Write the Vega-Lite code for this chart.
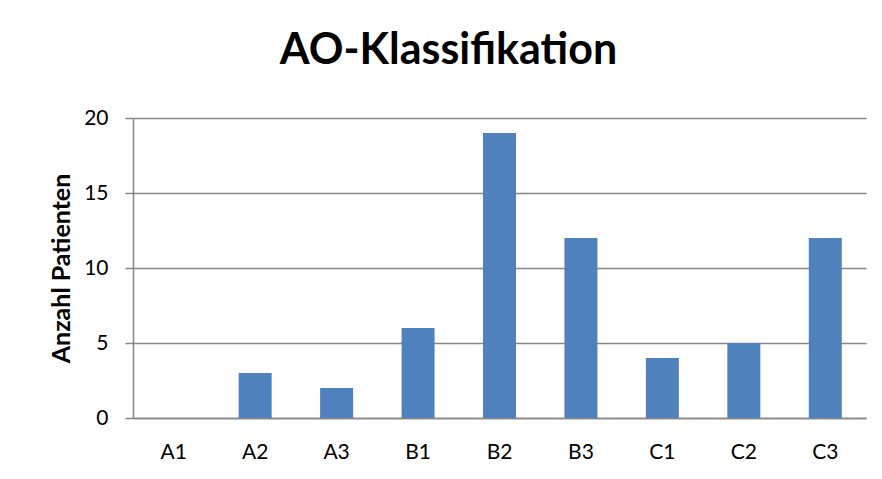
{
  "$schema": "https://vega.github.io/schema/vega-lite/v6.json",
  "width": 733,
  "height": 300,
  "autosize": {"type": "none"},
  "padding": {"left": 133, "top": 118, "right": 16, "bottom": 61},
  "background": "white",
  "title": {
    "text": "AO-Klassifikation",
    "font": "Lato",
    "fontSize": 43,
    "fontWeight": "bold",
    "color": "#000000",
    "anchor": "middle",
    "dx": -51,
    "baseline": "alphabetic",
    "offset": 0
  },
  "data": {
    "values": [
      {"klasse": "A1", "anzahl": 0},
      {"klasse": "A2", "anzahl": 3},
      {"klasse": "A3", "anzahl": 2},
      {"klasse": "B1", "anzahl": 6},
      {"klasse": "B2", "anzahl": 19},
      {"klasse": "B3", "anzahl": 12},
      {"klasse": "C1", "anzahl": 4},
      {"klasse": "C2", "anzahl": 5},
      {"klasse": "C3", "anzahl": 12}
    ]
  },
  "mark": {"type": "bar", "color": "#4F81BD"},
  "encoding": {
    "x": {
      "field": "klasse",
      "type": "nominal",
      "sort": null,
      "scale": {"paddingInner": 0.595, "paddingOuter": 0.2975},
      "axis": {
        "title": null,
        "labelAngle": 0,
        "ticks": false,
        "labelPadding": 23,
        "labelFont": "Lato",
        "labelFontSize": 21,
        "labelColor": "#000000",
        "domainColor": "#868686",
        "domainWidth": 1.5,
        "grid": false
      }
    },
    "y": {
      "field": "anzahl",
      "type": "quantitative",
      "scale": {"domain": [0, 20], "nice": false},
      "axis": {
        "title": "Anzahl Patienten",
        "titleFont": "Lato",
        "titleFontSize": 25,
        "titleFontWeight": "bold",
        "titleColor": "#000000",
        "titlePadding": 9,
        "values": [0, 5, 10, 15, 20],
        "tickSize": 8,
        "tickColor": "#868686",
        "tickWidth": 1.5,
        "labelPadding": 17,
        "labelFont": "Lato",
        "labelFontSize": 21,
        "labelColor": "#000000",
        "domainColor": "#868686",
        "domainWidth": 1.5,
        "grid": true,
        "gridColor": "#868686",
        "gridWidth": 1.5
      }
    }
  },
  "config": {"view": {"stroke": null}}
}
